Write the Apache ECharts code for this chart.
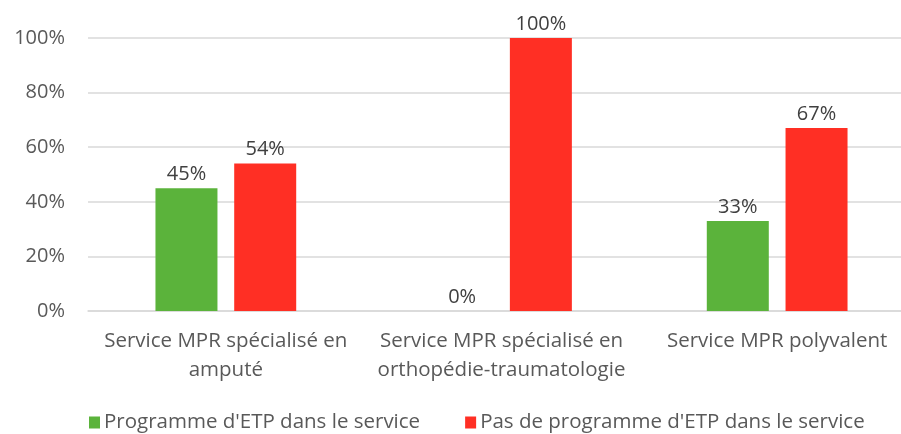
<!DOCTYPE html>
<html>
<head>
<meta charset="utf-8">
<script src="https://cdn.jsdelivr.net/npm/echarts@6/dist/echarts.min.js"></script>
<style>
  html, body { margin: 0; padding: 0; background: #fff; }
  #chart { width: 901px; height: 434px; }
</style>
</head>
<body>
<div id="chart"></div>
<script>
var categories = ['Service MPR spécialisé en\namputé', 'Service MPR spécialisé en\northopédie-traumatologie', 'Service MPR polyvalent'];
var avecProgramme = [45, 0, 33];
var sansProgramme = [54, 100, 67];
var seriesNames = ["Programme d'ETP dans le service", "Pas de programme d'ETP dans le service"];

var font = 'Open Sans';
var myChart = echarts.init(document.getElementById('chart'));
var option = {
    animation: false,
    color: ['#5bb33b', '#ff2f24'],
    textStyle: { fontFamily: font },
    grid: {
        left: 88,
        right: -14,
        top: 38,
        bottom: 123,
        outerBoundsMode: 'none'
    },
    legend: {
        top: 407,
        left: 84,
        itemWidth: 11,
        itemHeight: 12,
        itemGap: 45,
        icon: 'rect',
        textStyle: { fontSize: 20.5, color: '#595959', fontFamily: font, padding: [0, 0, 0, -1] },
        data: seriesNames
    },
    xAxis: [{
        type: 'category',
        data: categories,
        axisTick: { show: false },
        axisLine: { lineStyle: { color: '#d9d9d9', width: 1.5 } },
        axisLabel: {
            fontSize: 20.5,
            color: '#595959',
            margin: 16,
            lineHeight: 29,
            interval: 0
        }
    }],
    yAxis: [{
        type: 'value',
        min: 0,
        max: 100,
        interval: 20,
        axisLine: { show: false },
        axisTick: { show: false },
        splitLine: { lineStyle: { color: '#d9d9d9', width: 1.5 } },
        axisLabel: {
            fontSize: 20,
            color: '#595959',
            margin: 23,
            formatter: '{value}%'
        }
    }],
    series: [{
        name: seriesNames[0],
        type: 'bar',
        barWidth: 62,
        barGap: '27%',
        data: avecProgramme,
        label: {
            show: true,
            position: 'top',
            distance: 4,
            fontSize: 20,
            color: '#404040',
            formatter: '{c}%'
        }
    }, {
        name: seriesNames[1],
        type: 'bar',
        barWidth: 62,
        data: sansProgramme,
        label: {
            show: true,
            position: 'top',
            distance: 4,
            fontSize: 20,
            color: '#404040',
            formatter: '{c}%'
        }
    }]
};
myChart.setOption(option);
</script>
</body>
</html>
